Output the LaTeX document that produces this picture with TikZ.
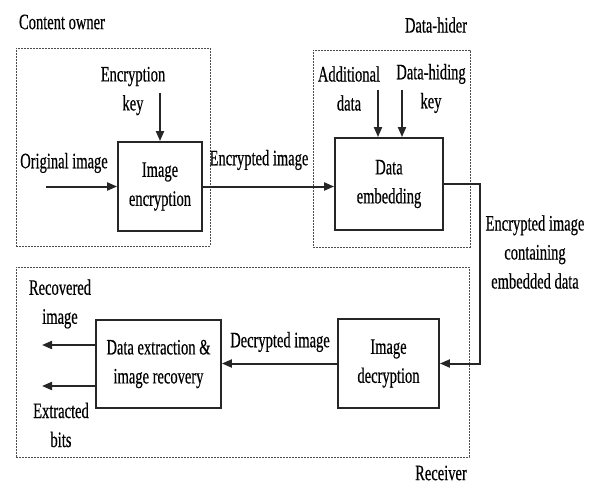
\documentclass[tikz,border=0pt]{standalone}
\usepackage{fontspec}
\setmainfont[FakeStretch=0.66,FakeBold=0.4]{Liberation Serif}
\usetikzlibrary{arrows.meta}
\begin{document}
\begin{tikzpicture}[x=1pt,y=-1pt,
  txt/.style={font=\fontsize{22}{29}\selectfont, align=center, inner sep=0pt, text=black},
  blk/.style={draw=black!85, line width=1.8pt, inner sep=0pt, align=center, font=\fontsize{22}{29}\selectfont, text=black},
  zone/.style={draw=black!70, line width=0.8pt, dash pattern=on 2pt off 1pt, inner sep=0pt},
  arr/.style={draw=black!85, line width=2pt, -{Triangle[length=10pt,width=8pt]}},
  ln/.style={draw=black!85, line width=2pt}]
\useasboundingbox (0,0) rectangle (594,484);
% zones
\node[zone, minimum width=194pt, minimum height=198pt] (owner) at (113,147) {};
\node[zone, minimum width=157pt, minimum height=197pt] (hider) at (391.5,148.5) {};
\node[zone, minimum width=453pt, minimum height=190pt] (recv) at (242.5,362) {};
\node[txt] (ownerlbl) at (62,22) {Content owner};
\node[txt] (hiderlbl) at (436,25) {Data-hider};
\node[txt] (recvlbl) at (441,473) {Receiver};
% blocks
\node[blk, minimum width=84pt, minimum height=89pt] (enc) at (160,186.5) {Image\\encryption};
\node[blk, minimum width=108pt, minimum height=92pt] (emb) at (389,184) {Data\\embedding};
\node[blk, minimum width=101pt, minimum height=89pt] (dec) at (388.5,363.5) {Image\\decryption};
\node[blk, minimum width=125pt, minimum height=88pt] (ext) at (158.5,364) {Data extraction \&\\image recovery};
% labels
\node[txt] (key) at (133,91) {Encryption\\key};
\node[txt] (orig) at (64,163) {Original image};
\node[txt] (encimg) at (259,160) {Encrypted image};
\node[txt] (add) at (349,88.5) {Additional\\data};
\node[txt] (hkey) at (431,88.5) {Data-hiding\\key};
\node[txt] (cont) at (535,252) {Encrypted image\\containing\\embedded data};
\node[txt] (decimg) at (280,342) {Decrypted image};
\node[txt] (rec) at (60,304) {Recovered\\image};
\node[txt] (bits) at (61,425) {Extracted\\bits};
% coordinates
\coordinate (keytop) at (160,93);
\coordinate (origst) at (46,186.5);
\coordinate (addtop) at (378,90);
\coordinate (hkeytop) at (402,90);
\coordinate (c1) at (480,184);
\coordinate (c2) at (480,363.5);
\coordinate (recend) at (42,345);
\coordinate (bitsend) at (42,386);
% connectors
\draw[arr] (keytop) -- (keytop |- enc.north);
\draw[arr] (origst) -- (enc.west);
\draw[arr] (enc.east) -- (emb.west |- enc.east);
\draw[arr] (addtop) -- (addtop |- emb.north);
\draw[arr] (hkeytop) -- (hkeytop |- emb.north);
\draw[arr] (emb.east) -- (c1) -- (c2) -- (dec.east);
\draw[arr] (dec.west) -- (ext.east |- dec.west);
\draw[arr] (ext.west |- recend) -- (recend);
\draw[arr] (ext.west |- bitsend) -- (bitsend);
\end{tikzpicture}
\end{document}
